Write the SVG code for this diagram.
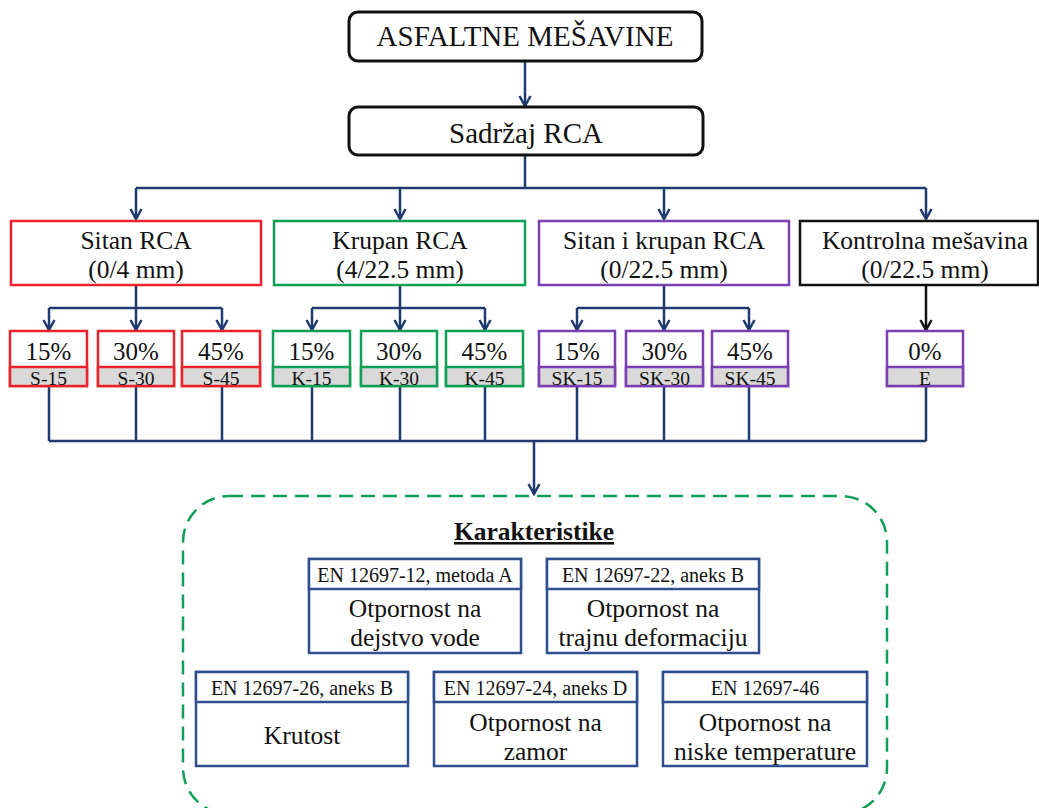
<svg xmlns="http://www.w3.org/2000/svg" width="1039" height="808" viewBox="0 0 1039 808" font-family="'Liberation Serif', serif">
<style>
text{font-family:'Liberation Serif','Times New Roman',serif;fill:#111;text-anchor:middle}
.t1{font-size:29px}
.t2{font-size:25.5px}
.pc{font-size:25px}
.cd{font-size:19.5px}
.hd{font-size:20px}
.bd{font-size:25.5px}
.kr{font-size:25.5px;font-weight:bold;text-decoration:underline}
.top{fill:#fff;stroke:#111;stroke-width:3}
.red{stroke:#e8232b}
.grn{stroke:#10a055}
.pur{stroke:#7a3fb0}
.blk{stroke:#111}
.bx{fill:#fff;stroke-width:2.5}
.gr{fill:#d9d9d9}
.ib{fill:#fff;stroke:#2f4f8f;stroke-width:2.5}
.con{fill:none;stroke:#1f3a6e;stroke-width:2.5}
</style>
<defs>
<marker id="arr" markerUnits="userSpaceOnUse" markerWidth="14" markerHeight="14" viewBox="0 0 14 14" refX="12" refY="7" orient="auto">
<path d="M2,1.5 L12,7 L2,12.5" fill="none" stroke="#1f3a6e" stroke-width="2.5"/>
</marker>
<marker id="arrk" markerUnits="userSpaceOnUse" markerWidth="14" markerHeight="14" viewBox="0 0 14 14" refX="12" refY="7" orient="auto">
<path d="M2,1.5 L12,7 L2,12.5" fill="none" stroke="#111" stroke-width="2.5"/>
</marker>
</defs>
<rect width="1039" height="808" fill="#fff"/>

<g id="connectors">
<path class="con" d="M525,61 V106" marker-end="url(#arr)"/>
<path class="con" d="M525,155 V188 M136,188 H926"/>
<path class="con" d="M136,188 V219" marker-end="url(#arr)"/>
<path class="con" d="M400,188 V219" marker-end="url(#arr)"/>
<path class="con" d="M664,188 V219" marker-end="url(#arr)"/>
<path class="con" d="M926,188 V219" marker-end="url(#arr)"/>
<path class="con" d="M136,285 V308 M49,308 H222"/>
<path class="con" d="M49,308 V330" marker-end="url(#arr)"/>
<path class="con" d="M136,308 V330" marker-end="url(#arr)"/>
<path class="con" d="M222,308 V330" marker-end="url(#arr)"/>
<path class="con" d="M400,285 V308 M312,308 H485"/>
<path class="con" d="M312,308 V330" marker-end="url(#arr)"/>
<path class="con" d="M400,308 V330" marker-end="url(#arr)"/>
<path class="con" d="M485,308 V330" marker-end="url(#arr)"/>
<path class="con" d="M664,285 V308 M577,308 H749"/>
<path class="con" d="M577,308 V330" marker-end="url(#arr)"/>
<path class="con" d="M664,308 V330" marker-end="url(#arr)"/>
<path class="con" d="M749,308 V330" marker-end="url(#arr)"/>
<path fill="none" stroke="#111" stroke-width="2.5" d="M926,285 V330" marker-end="url(#arrk)"/>
<path class="con" d="M49,386 V441 M136,386 V441 M222,386 V441 M312,386 V441 M400,386 V441 M485,386 V441 M577,386 V441 M664,386 V441 M749,386 V441 M926,386 V441 M49,441 H926"/>
<path class="con" d="M534,441 V494" stroke-width="3" marker-end="url(#arr)"/>
</g>

<g id="n-asfaltne">
<rect class="top" x="349" y="12" width="353" height="49" rx="9"/>
<text class="t1" x="525" y="46">ASFALTNE MEŠAVINE</text>
</g>
<g id="n-sadrzaj">
<rect class="top" x="349" y="107" width="354" height="48" rx="9"/>
<text class="t1" x="526" y="143">Sadržaj RCA</text>
</g>

<g id="n-sitan">
<rect class="bx red" x="11" y="221" width="250" height="64"/>
<text class="t2" x="136" y="249">Sitan RCA</text>
<text class="t2" x="136" y="278">(0/4 mm)</text>
</g>
<g id="n-krupan">
<rect class="bx grn" x="274" y="221" width="251" height="64"/>
<text class="t2" x="400" y="249">Krupan RCA</text>
<text class="t2" x="400" y="278">(4/22.5 mm)</text>
</g>
<g id="n-sitankrupan">
<rect class="bx pur" x="539" y="221" width="250" height="64"/>
<text class="t2" x="664" y="249">Sitan i krupan RCA</text>
<text class="t2" x="664" y="278">(0/22.5 mm)</text>
</g>
<g id="n-kontrolna">
<rect class="bx blk" x="800" y="221" width="238" height="64"/>
<text class="t2" x="925" y="249">Kontrolna mešavina</text>
<text class="t2" x="925" y="278">(0/22.5 mm)</text>
</g>

<g id="n-s15">
<rect class="bx red" x="10" y="331" width="77" height="55"/>
<rect class="gr red" x="10" y="367" width="77" height="19" stroke-width="2.5"/>
<text class="pc" x="48.5" y="360">15%</text>
<text class="cd" x="48.5" y="385">S-15</text>
</g>
<g id="n-s30">
<rect class="bx red" x="98" y="331" width="76" height="55"/>
<rect class="gr red" x="98" y="367" width="76" height="19" stroke-width="2.5"/>
<text class="pc" x="136" y="360">30%</text>
<text class="cd" x="136" y="385">S-30</text>
</g>
<g id="n-s45">
<rect class="bx red" x="182" y="331" width="78" height="55"/>
<rect class="gr red" x="182" y="367" width="78" height="19" stroke-width="2.5"/>
<text class="pc" x="221" y="360">45%</text>
<text class="cd" x="221" y="385">S-45</text>
</g>
<g id="n-k15">
<rect class="bx grn" x="273" y="331" width="77" height="55"/>
<rect class="gr grn" x="273" y="367" width="77" height="19" stroke-width="2.5"/>
<text class="pc" x="311.5" y="360">15%</text>
<text class="cd" x="311.5" y="385">K-15</text>
</g>
<g id="n-k30">
<rect class="bx grn" x="361" y="331" width="76" height="55"/>
<rect class="gr grn" x="361" y="367" width="76" height="19" stroke-width="2.5"/>
<text class="pc" x="399" y="360">30%</text>
<text class="cd" x="399" y="385">K-30</text>
</g>
<g id="n-k45">
<rect class="bx grn" x="446" y="331" width="77" height="55"/>
<rect class="gr grn" x="446" y="367" width="77" height="19" stroke-width="2.5"/>
<text class="pc" x="484.5" y="360">45%</text>
<text class="cd" x="484.5" y="385">K-45</text>
</g>
<g id="n-sk15">
<rect class="bx pur" x="539" y="331" width="76" height="55"/>
<rect class="gr pur" x="539" y="367" width="76" height="19" stroke-width="2.5"/>
<text class="pc" x="577" y="360">15%</text>
<text class="cd" x="577" y="385">SK-15</text>
</g>
<g id="n-sk30">
<rect class="bx pur" x="626" y="331" width="77" height="55"/>
<rect class="gr pur" x="626" y="367" width="77" height="19" stroke-width="2.5"/>
<text class="pc" x="664.5" y="360">30%</text>
<text class="cd" x="664.5" y="385">SK-30</text>
</g>
<g id="n-sk45">
<rect class="bx pur" x="712" y="331" width="76" height="55"/>
<rect class="gr pur" x="712" y="367" width="76" height="19" stroke-width="2.5"/>
<text class="pc" x="750" y="360">45%</text>
<text class="cd" x="750" y="385">SK-45</text>
</g>
<g id="n-e">
<rect class="bx pur" x="887" y="331" width="76" height="55"/>
<rect class="gr pur" x="887" y="367" width="76" height="19" stroke-width="2.5"/>
<text class="pc" x="925" y="360">0%</text>
<text class="cd" x="925" y="385">E</text>
</g>

<g id="n-karakteristike">
<rect x="183" y="496" width="704" height="318" rx="46" fill="none" stroke="#10a055" stroke-width="2.5" stroke-dasharray="14,8"/>
<text class="kr" x="534" y="540">Karakteristike</text>
</g>

<g id="n-voda">
<rect class="ib" x="309" y="559" width="212" height="94"/>
<rect class="ib gr" x="309" y="559" width="212" height="30"/>
<text class="hd" x="415" y="582">EN 12697-12, metoda A</text>
<text class="bd" x="415" y="617">Otpornost na</text>
<text class="bd" x="415" y="646">dejstvo vode</text>
</g>
<g id="n-deformacija">
<rect class="ib" x="547" y="559" width="212" height="94"/>
<rect class="ib gr" x="547" y="559" width="212" height="30"/>
<text class="hd" x="653" y="582">EN 12697-22, aneks B</text>
<text class="bd" x="653" y="617">Otpornost na</text>
<text class="bd" x="653" y="646">trajnu deformaciju</text>
</g>
<g id="n-krutost">
<rect class="ib" x="196" y="672" width="212" height="94"/>
<rect class="ib gr" x="196" y="672" width="212" height="30"/>
<text class="hd" x="302" y="695">EN 12697-26, aneks B</text>
<text class="bd" x="302" y="744">Krutost</text>
</g>
<g id="n-zamor">
<rect class="ib" x="434" y="672" width="203" height="94"/>
<rect class="ib gr" x="434" y="672" width="203" height="30"/>
<text class="hd" x="535.5" y="695">EN 12697-24, aneks D</text>
<text class="bd" x="535.5" y="731">Otpornost na</text>
<text class="bd" x="535.5" y="760">zamor</text>
</g>
<g id="n-temperature">
<rect class="ib" x="663" y="672" width="204" height="94"/>
<rect class="ib gr" x="663" y="672" width="204" height="30"/>
<text class="hd" x="765" y="695">EN 12697-46</text>
<text class="bd" x="765" y="731">Otpornost na</text>
<text class="bd" x="765" y="760">niske temperature</text>
</g>
</svg>
